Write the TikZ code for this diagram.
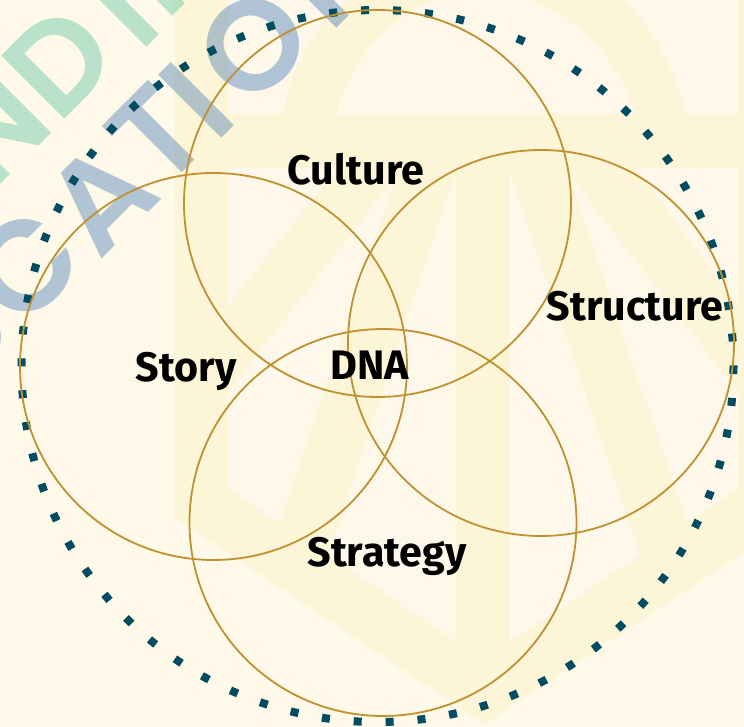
\documentclass[tikz,border=0pt]{standalone}
\usepackage{fontspec}
\setmainfont{Fira Sans}
\newfontfamily\wmfont{Poppins SemiBold}
\definecolor{bgc}{RGB}{254,249,232}
\definecolor{bandc}{RGB}{253,245,215}
\definecolor{lightc}{RGB}{253,248,233}
\definecolor{ringc}{RGB}{191,145,48}
\definecolor{dotc}{RGB}{1,76,96}
\definecolor{wblue}{RGB}{0,75,165}
\definecolor{wgreen}{RGB}{31,176,135}
\tikzset{
  ring/.style={draw=ringc,line width=1.8pt},
  lbl/.style={anchor=base,font=\fontsize{41.2}{48}\selectfont\bfseries,text=black,inner sep=0pt},
  wmb/.style={rotate=45,font=\fontsize{128}{128}\wmfont,text=wblue,text opacity=.3,inner sep=0pt},
  wmg/.style={rotate=45,font=\fontsize{128}{128}\wmfont,text=wgreen,text opacity=.3,inner sep=0pt},
  lt/.style={fill=lightc,draw=none}
}
\begin{document}
\begin{tikzpicture}[x=1pt,y=-1pt]
\useasboundingbox (0,0) rectangle (744,727);
\clip (0,0) rectangle (744,727);
\fill[bgc] (0,0) rectangle (744,727);
% logo
\fill[bandc] (174,0) -- (744,0) -- (744,552) -- (484,724) -- (174,517) -- cycle;
\fill[lt] (228,0) -- (228,114) -- (283,114) .. controls (290,70) and (315,25) .. (348,0) -- cycle;
\fill[lt] (337,114) .. controls (345,70) and (385,20) .. (432,0) -- (532,0) .. controls (585,22) and (622,65) .. (635,114) -- cycle;
\fill[lt] (738,0) -- (738,114) -- (684,114) .. controls (677,70) and (652,25) .. (621,0) -- cycle;
\fill[lt] (228,168) -- (338,168) -- (228,305) -- cycle;
\fill[lt] (738,168) -- (636,168) -- (738,305) -- cycle;
\fill[lt] (228,392) -- (397,175) -- (279,523) -- (228,489) -- cycle;
\fill[lt] (738,392) -- (569,175) -- (687,523) -- (738,489) -- cycle;
\fill[lt] (456,172) -- (456,642) -- (328,555) -- cycle;
\fill[lt] (510,172) -- (510,642) -- (640,555) -- cycle;
% watermark letters
\node[wmb] (wu) at (-42,332) {U};
\node[wmb] (wc) at (25,266) {C};
\node[wmb] (wa) at (100,197) {A};
\node[wmb] (wt) at (157,135) {T};
\node[wmb] (wi) at (196,100) {I};
\node[wmb] (wo) at (253,45) {O};
\node[wmb] (wn) at (332,-30) {N};
\node[wmg] (gn) at (-7,129) {N};
\node[wmg] (gd) at (59,61) {D};
\node[wmg] (gi) at (121,9) {I};
\node[wmg] (gm) at (168,-42) {N};
% dotted ring
\draw[dotc,line width=8pt,dash pattern=on 8pt off 23.95pt] (377.5,366) circle[radius=356];
% circles
\draw[ring] (377.5,203.5) circle[radius=193.5];
\draw[ring] (213.5,366.5) circle[radius=193.5];
\draw[ring] (541,343) circle[radius=193];
\draw[ring] (383,522.5) circle[radius=193.5];
% labels
\node[lbl] (culture) at (356,185) {Culture};
\node[lbl] (structure) at (635,320) {Structure};
\node[lbl] (dna) at (370,379) {DNA};
\node[lbl] (story) at (186,381) {Story};
\node[lbl] (strategy) at (387,566) {Strategy};
\end{tikzpicture}
\end{document}
